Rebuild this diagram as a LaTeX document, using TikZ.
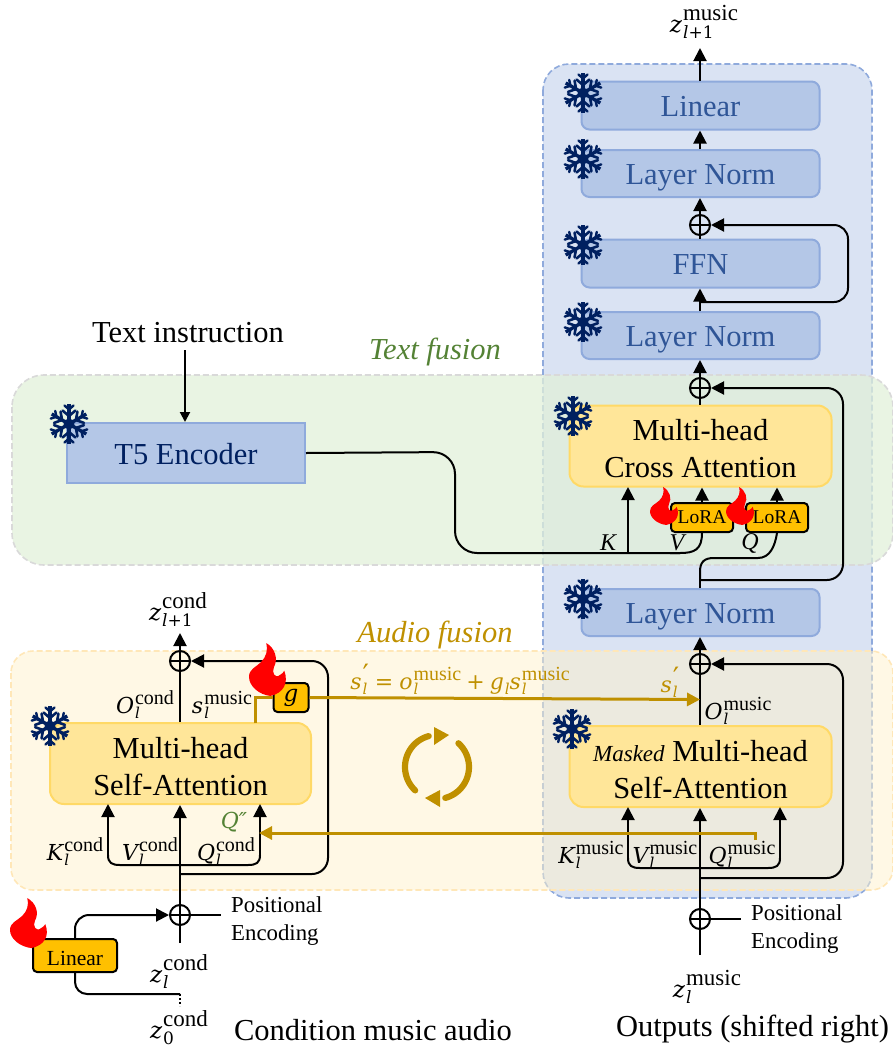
\documentclass[tikz,border=0pt]{standalone}
\usepackage{fontspec}
\setmainfont{Liberation Serif}
\newfontfamily\mfont{DejaVu Serif}
\usetikzlibrary{arrows.meta,calc}
\definecolor{panelblue}{HTML}{DAE3F3}
\definecolor{edgeblue}{HTML}{8FAADC}
\definecolor{fillblue}{HTML}{B4C7E7}
\definecolor{textblue}{HTML}{2F5597}
\definecolor{fillyel}{HTML}{FFE699}
\definecolor{edgeyel}{HTML}{FFD966}
\definecolor{panelgrn}{HTML}{E2F0D9}
\definecolor{panelyel}{HTML}{FFF2CC}
\definecolor{gold}{HTML}{BF9000}
\definecolor{amber}{HTML}{FFC000}
\definecolor{navy}{HTML}{002060}
\definecolor{txtgreen}{HTML}{548235}
\newcommand{\bigf}{\fontsize{30.5}{36}\selectfont}
\newsavebox\lsup
\newsavebox\lsub
% base, subscript, superscript (big labels)
\newcommand{\Zl}[3]{{\fontsize{23}{26}\mfont\itshape #1}\kern1pt%
  \sbox\lsup{\fontsize{23}{26}\selectfont #3}\sbox\lsub{\fontsize{17}{20}\mfont\itshape #2}%
  \raisebox{12pt}{\makebox[0pt][l]{\usebox\lsup}}\raisebox{-6pt}{\makebox[0pt][l]{\usebox\lsub}}%
  \ifdim\wd\lsup>\wd\lsub\kern\wd\lsup\else\kern\wd\lsub\fi}
% base, subscript, superscript (small labels)
\newcommand{\Kl}[3]{{\fontsize{22}{26}\mfont\itshape #1}\kern1pt%
  \sbox\lsup{\fontsize{20}{24}\selectfont #3}\sbox\lsub{\fontsize{15}{18}\mfont\itshape #2}%
  \raisebox{9pt}{\makebox[0pt][l]{\usebox\lsup}}\raisebox{-5pt}{\makebox[0pt][l]{\usebox\lsub}}%
  \ifdim\wd\lsup>\wd\lsub\kern\wd\lsup\else\kern\wd\lsub\fi}
\newcommand{\prm}{\raisebox{-4pt}{\fontsize{28}{28}\mfont′}}
\tikzset{
  x=1pt,y=-1pt,
  arr/.style={line width=2pt,draw=black,-{Triangle[length=13pt,width=13pt]}},
  ln/.style={line width=2pt,draw=black},
  goldarr/.style={line width=3pt,draw=gold,-{Triangle[length=13pt,width=13pt]}},
  goldln/.style={line width=3pt,draw=gold},
  blueblock/.style={draw=edgeblue,fill=fillblue,line width=2pt,rounded corners=8pt,
    minimum width=238pt,minimum height=48pt,inner sep=0pt,text=textblue,font=\bigf,
    text height=21.5pt,text depth=0pt},
  yelblock/.style={draw=edgeyel,fill=fillyel,line width=2pt,rounded corners=14pt,
    minimum width=262pt,minimum height=81pt,inner sep=0pt,align=center,font=\bigf},
  amberbox/.style={draw=black,fill=amber,line width=2pt,rounded corners=4pt,inner sep=0pt},
  plusnode/.style={circle,draw=black,line width=2pt,minimum size=20pt,inner sep=0pt,
    path picture={\draw[line width=2pt] (path picture bounding box.west)--(path picture bounding box.east)
      (path picture bounding box.north)--(path picture bounding box.south);}},
  mlab/.style={inner sep=0pt},
  vlab/.style={inner sep=0pt,font=\fontsize{24}{26}\selectfont\itshape},
  bigtxt/.style={inner sep=0pt,font=\fontsize{30.5}{36}\selectfont},
  italtxt/.style={inner sep=0pt,font=\fontsize{30.5}{36}\selectfont\itshape},
  postxt/.style={inner sep=0pt,font=\fontsize{22.8}{28}\selectfont,align=left,anchor=west},
  pics/flame/.style={code={
    \fill[red] (50,0) .. controls (75,15) and (85,45) .. (72,70)
      .. controls (65,85) and (75,105) .. (90,92)
      .. controls (96,88) and (100,85) .. (102,80)
      .. controls (115,115) and (100,145) .. (62,153)
      .. controls (30,150) and (0,125) .. (0,98)
      .. controls (0,75) and (20,70) .. (35,55)
      .. controls (50,40) and (55,20) .. (50,0) -- cycle;}},
  pics/snow/.style={code={
    \foreach \a in {30,90,...,330}{
      \begin{scope}[rotate=\a]
        \draw[navy,line width=3.4pt] (0,0) -- (20,0);
        \draw[navy,line width=2.6pt,line cap=round] (13.5,-6.5) -- (8,0) -- (13.5,6.5);
        \draw[navy,line width=2.4pt,line cap=round] (18.5,-4.5) -- (14.5,0) -- (18.5,4.5);
      \end{scope}}
    \fill[navy] (0,0) circle (5.5pt);}}
}
\begin{document}
\begin{tikzpicture}
\useasboundingbox (0,0) rectangle (893,1050);
\clip (0,0) rectangle (893,1050);
% panels
\path[fill=panelblue,draw=edgeblue,line width=1.6pt,dash pattern=on 6pt off 3pt,rounded corners=26pt] (543,64) rectangle (872,898);
\path[fill=panelgrn,fill opacity=.75,draw=lightgray!60,line width=1.6pt,dash pattern=on 6pt off 3pt,rounded corners=32pt] (12,375) rectangle (893,565);
\path[fill=panelyel,fill opacity=.5,draw=panelyel!90!orange,line width=1.6pt,dash pattern=on 6pt off 3pt,rounded corners=22pt] (11,651) rectangle (893,890);

% blocks
\node[blueblock] (lin) at (700.5,105.5) {Linear};
\node[blueblock,minimum height=47pt] (ln3) at (700.5,173.5) {Layer Norm};
\node[blueblock] (ffn) at (700.5,263.5) {FFN};
\node[blueblock,minimum height=47pt] (ln2) at (700.5,335.5) {Layer Norm};
\node[blueblock,minimum height=47pt] (ln1) at (700.5,612.5) {Layer Norm};
\node[yelblock] (cross) at (700.5,446) {\rule{0pt}{27pt}Multi-head\\[1pt]Cross Attention};
\node[yelblock] (mask) at (700.5,766.5) {\rule{0pt}{27pt}{\fontsize{23}{26}\selectfont\itshape Masked} Multi-head\\[1pt]Self-Attention};
\node[yelblock,minimum width=261pt] (cself) at (180.5,763.5) {\rule{0pt}{27pt}Multi-head\\[1pt]Self-Attention};
\node[draw=edgeblue,fill=fillblue,line width=2pt,minimum width=238pt,minimum height=60pt,inner sep=0pt,text=navy,font=\bigf,text height=22pt,text depth=0pt] (t5) at (186,453) {T5 Encoder};
\node[amberbox,minimum width=62pt,minimum height=29pt,font=\fontsize{19.5}{22}\selectfont] (lora1) at (702,517.5) {LoRA};
\node[amberbox,minimum width=62pt,minimum height=29pt,font=\fontsize{19.5}{22}\selectfont] (lora2) at (777,517.5) {LoRA};
\node[amberbox,minimum width=35pt,minimum height=29pt,font=\fontsize{23}{26}\mfont\itshape] (gbox) at (291,697.5) {g};
\node[amberbox,minimum width=84pt,minimum height=33pt,font=\fontsize{21.5}{24}\selectfont,text height=19pt,text depth=0pt] (linbox) at (75,955.5) {Linear};

% plus nodes
\node[plusnode] (p4) at (700,225) {};
\node[plusnode] (p3) at (700,388) {};
\node[plusnode] (p2) at (700,664) {};
\node[plusnode] (pm) at (700,919) {};
\node[plusnode] (pc1) at (180,661) {};
\node[plusnode] (pc0) at (180,915) {};

% helper coordinates
\coordinate (top) at (700,48);
\coordinate (j5) at (700,302);
\coordinate (r5) at (848,225);
\coordinate (j3) at (700,580);
\coordinate (r3) at (843,388);
\coordinate (j2) at (700,878);
\coordinate (r2) at (843,664);
\coordinate (zm) at (700,955);
\coordinate (posm) at (741,919);
\coordinate (jc) at (180,874);
\coordinate (rc) at (328,661);
\coordinate (ztop) at (180,633);
\coordinate (zc) at (180,943);
\coordinate (posc) at (221,915);
\coordinate (kcr) at (628,487);
\coordinate (kcb) at (628,553);
\coordinate (t5a) at (455,553);
\coordinate (goldend) at (700,699.5);
\coordinate (q2s) at (755,840);
\coordinate (q2e) at (259,833);
\coordinate (d0) at (180,994);
\coordinate (d1) at (180,1006);
\coordinate (mk) at (628,807);
\coordinate (mq) at (780,807);
\coordinate (ck) at (108,804);
\coordinate (cq) at (260,804);
\coordinate (gs) at (255,723);

% connectors: right column
\draw[arr] (lin.north -| top) -- (top);
\draw[arr] (ln3.north -| top) -- (lin.south -| top);
\draw[arr] (ffn.north -| top) -- (ln3.south -| top);
\draw[arr] (ln2.north -| top) -- (ffn.south -| top);
\draw[arr,rounded corners=14pt] (j5) -| (r5) -- (p4.east);
\draw[arr] (cross.north -| top) -- (ln2.south -| top);
\draw[arr,rounded corners=16pt] (j3) -| (r3) -- (p3.east);
\draw[ln] (ln1.north -| top) -- (j3);
\draw[ln] (j3) -- (700,572) .. controls (700,562) and (704,558) .. (714,558) -- (758,558) .. controls (770,558) and (775,546) .. (lora2.south);
\draw[arr] (lora2.north) -- (lora2.north |- cross.south);
\draw[arr] (lora1.north) -- (lora1.north |- cross.south);
\draw[ln,rounded corners=22pt] (t5.east) -- (455,452) -- (t5a) -- (680,553);
\draw[ln] (670,553) -- (680,553) .. controls (694,553) and (702,550) .. (lora1.south);
\draw[arr] (kcb) -- (kcr);
\draw[arr] (mask.north -| top) -- (ln1.south -| top);
\draw[arr,rounded corners=16pt] (j2) -| (r2) -- (p2.east);
\draw[arr] (zm) -- (mask.south -| top);
\draw[ln] (pm.center) -- (posm);
\draw[ln] (640,868) .. controls (632,868) and (628,866) .. (628,858);
\draw[arr] (628,858) -- (mk);
\draw[ln] (640,868) -- (768,868) .. controls (776,868) and (780,866) .. (780,858);
\draw[arr] (780,858) -- (mq);

% left column
\draw[arr] (cself.north -| ztop) -- (ztop);
\draw[arr,rounded corners=16pt] (jc) -| (rc) -- (pc1.east);
\draw[arr] (zc) -- (cself.south -| ztop);
\draw[ln] (pc0.center) -- (posc);
\draw[ln] (120,865) .. controls (112,865) and (108,863) .. (108,855);
\draw[arr] (108,855) -- (ck);
\draw[ln] (120,865) -- (248,865) .. controls (256,865) and (260,863) .. (260,855);
\draw[arr] (260,855) -- (cq);
\draw[arr,rounded corners=14pt] (linbox.north) |- (pc0.west);
\draw[ln,rounded corners=12pt] (linbox.south) |- (d0);
\draw[line width=2pt,dash pattern=on 2pt off 2pt] (d0) -- (d1);

% gold connectors
\draw[goldln] (gs) |- (gbox.west);
\draw[goldarr] (gbox.east) -- (goldend);
\draw[goldarr] (q2s) -- (755,833) -- (q2e);

% flames and snow
\pic[xscale=.346,yscale=.346] at (249,643) {flame};
\pic[xscale=.262,yscale=.248] at (650,487) {flame};
\pic[xscale=.262,yscale=.248] at (726,487) {flame};
\pic[xscale=.346,yscale=.327] at (10,898) {flame};
\pic at (583,93) {snow};
\pic at (583,159) {snow};
\pic at (583,245) {snow};
\pic at (583,322) {snow};
\pic at (573,416) {snow};
\pic at (583,599) {snow};
\pic at (572,729) {snow};
\pic at (50,726) {snow};
\pic at (69,424) {snow};

% cycle icon
\draw[gold,line width=6.2pt,line cap=round] plot[domain=227:105,samples=30] ({437+32*cos(\x)},{767-32*sin(\x)});
\fill[gold] (434,727) -- (449,735) -- (434,745) -- cycle;
\draw[gold,line width=6.2pt,line cap=round] plot[domain=48:-75,samples=30] ({437+32*cos(\x)},{767-32*sin(\x)});
\fill[gold] (440,790) -- (425,798) -- (440,807) -- cycle;

% text
\node[bigtxt] (ti) at (188,333) {Text instruction};
\coordinate (tia) at (185,350);
\draw[line width=2pt,-{Triangle[length=10pt,width=10pt]}] (tia) -- (t5.north -| tia);
\node[italtxt,text=txtgreen] (tf) at (435,352) {Text fusion};
\node[italtxt,text=gold] (af) at (435,635) {Audio fusion};
\node[bigtxt] (cma) at (373,1030) {Condition music audio};
\node[bigtxt] (osr) at (752.5,1029) {Outputs (shifted right)};
\node[postxt] (pc) at (231,921) {Positional\\Encoding};
\node[postxt] (pm2) at (751,929.5) {Positional\\Encoding};

\node[mlab] (a1) at (704,22) {\Zl{z}{l\upshape +1}{music}};
\node[mlab] (a2) at (178,610) {\Zl{z}{l\upshape +1}{cond}};
\node[mlab] (a3) at (707,987) {\Zl{z}{l}{music}};
\node[mlab] (a4) at (179,972) {\Zl{z}{l}{cond}};
\node[mlab] (a5) at (179,1028) {\Zl{z}{\upshape 0}{cond}};
\node[mlab] (b1) at (145,705) {\Kl{O}{l}{cond}};
\node[mlab] (b2) at (222,705) {\Kl{s}{l}{music}};
\node[mlab] (b3) at (75,852) {\Kl{K}{l}{cond}};
\node[mlab] (b4) at (150,852) {\Kl{V}{l}{cond}};
\node[mlab] (b5) at (226,852) {\Kl{Q}{l}{cond}};
\node[mlab] (b6) at (738,711) {\Kl{O}{l}{music}};
\node[mlab] (b7) at (591,855) {\Kl{K}{l}{music}};
\node[mlab] (b8) at (665,855) {\Kl{V}{l}{music}};
\node[mlab] (b9) at (742,855) {\Kl{Q}{l}{music}};
\node[mlab,text=txtgreen] (q2) at (234,822) {{\fontsize{22}{26}\mfont\itshape Q″}};
\node[mlab,text=gold] (s1) at (460,679) {\Kl{s}{l}{\prm}\kern6pt{\fontsize{22}{26}\mfont=}\kern6pt\Kl{o}{l}{music}\kern5pt{\fontsize{22}{26}\mfont+}\kern5pt\Kl{g}{l}{}\Kl{s}{l}{music}};
\node[mlab,text=gold] (s2) at (670,682) {\Kl{s}{l}{\prm}};
\node[vlab] (k) at (608,543) {K};
\node[vlab] (v) at (677,543) {V};
\node[vlab] (q) at (750,543) {Q};
\end{tikzpicture}
\end{document}
